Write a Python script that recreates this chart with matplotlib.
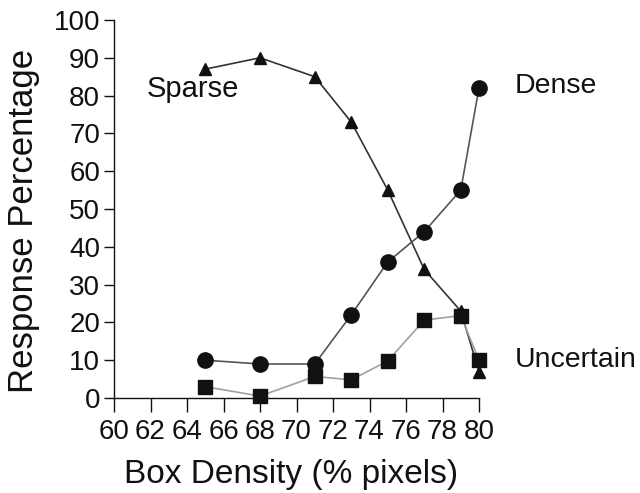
import matplotlib
matplotlib.use("Agg")
import matplotlib.pyplot as plt

plt.rcParams["font.family"] = ["Liberation Sans", "DejaVu Sans"]

# Box density (% pixels)
density = [65, 68, 71, 73, 75, 77, 79, 80]

# Response percentages
sparse = [87, 90, 85, 73, 55, 34, 23, 7]
dense = [10, 9, 9, 22, 36, 44, 55, 82]
uncertain = [3, 0.5, 5.7, 4.8, 9.8, 20.6, 21.8, 10]

x_ticks = list(range(60, 81, 2))
y_ticks = list(range(0, 101, 10))

fig = plt.figure(figsize=(6.4, 4.93), dpi=100)
ax = fig.add_axes([114 / 640, 1 - 398 / 493, 365 / 640, 378 / 493])

ax.plot(density, sparse, color="#333333", lw=1.2, marker="^", ms=9,
        mfc="#111111", mec="#111111", clip_on=False, zorder=3)
ax.plot(density, dense, color="#555555", lw=1.2, marker="o", ms=11,
        mfc="#111111", mec="#111111", clip_on=False, zorder=3)
ax.plot(density, uncertain, color="#a0a0a0", lw=1.2, marker="s", ms=10,
        mfc="#111111", mec="#111111", clip_on=False, zorder=3)

# series labels sit next to the curves instead of a legend
ax.text(61.8, 79.6, "Sparse", fontsize=21, color="#111111", va="baseline")
ax.text(81.97, 80.7, "Dense", fontsize=20.5, color="#111111", va="baseline",
        clip_on=False)
ax.text(81.97, 8.2, "Uncertain", fontsize=20.5, color="#111111", va="baseline",
        clip_on=False)

ax.set_xlim(60, 80)
ax.set_ylim(0, 100)
ax.set_xticks(x_ticks)
ax.set_yticks(y_ticks)
ax.set_xticklabels([str(t) for t in x_ticks], fontsize=20, color="#111111")
ax.set_yticklabels([str(t) for t in y_ticks], fontsize=20, color="#111111")
ax.tick_params(axis="x", direction="out", length=10, width=1, pad=5,
               color="#111111")
ax.tick_params(axis="y", direction="out", length=7, width=1, pad=3,
               color="#111111")

for side in ["top", "right"]:
    ax.spines[side].set_visible(False)
for side in ["left", "bottom"]:
    ax.spines[side].set_color("#111111")
    ax.spines[side].set_linewidth(1)

ax.set_xlabel("Box Density (% pixels)", fontsize=24, color="#111111")
ax.set_ylabel("Response Percentage", fontsize=25, color="#111111")

# place axis labels by pixel position (reference layout)
ax.xaxis.set_label_coords((291 - 114) / 365, -(474 - 398) / 378)
ax.xaxis.label.set_va("center")
ax.yaxis.set_label_coords(-(114 - 24) / 365, (398 - 221) / 378)
ax.yaxis.label.set_va("center")

fig.savefig("out.png", dpi=100)
